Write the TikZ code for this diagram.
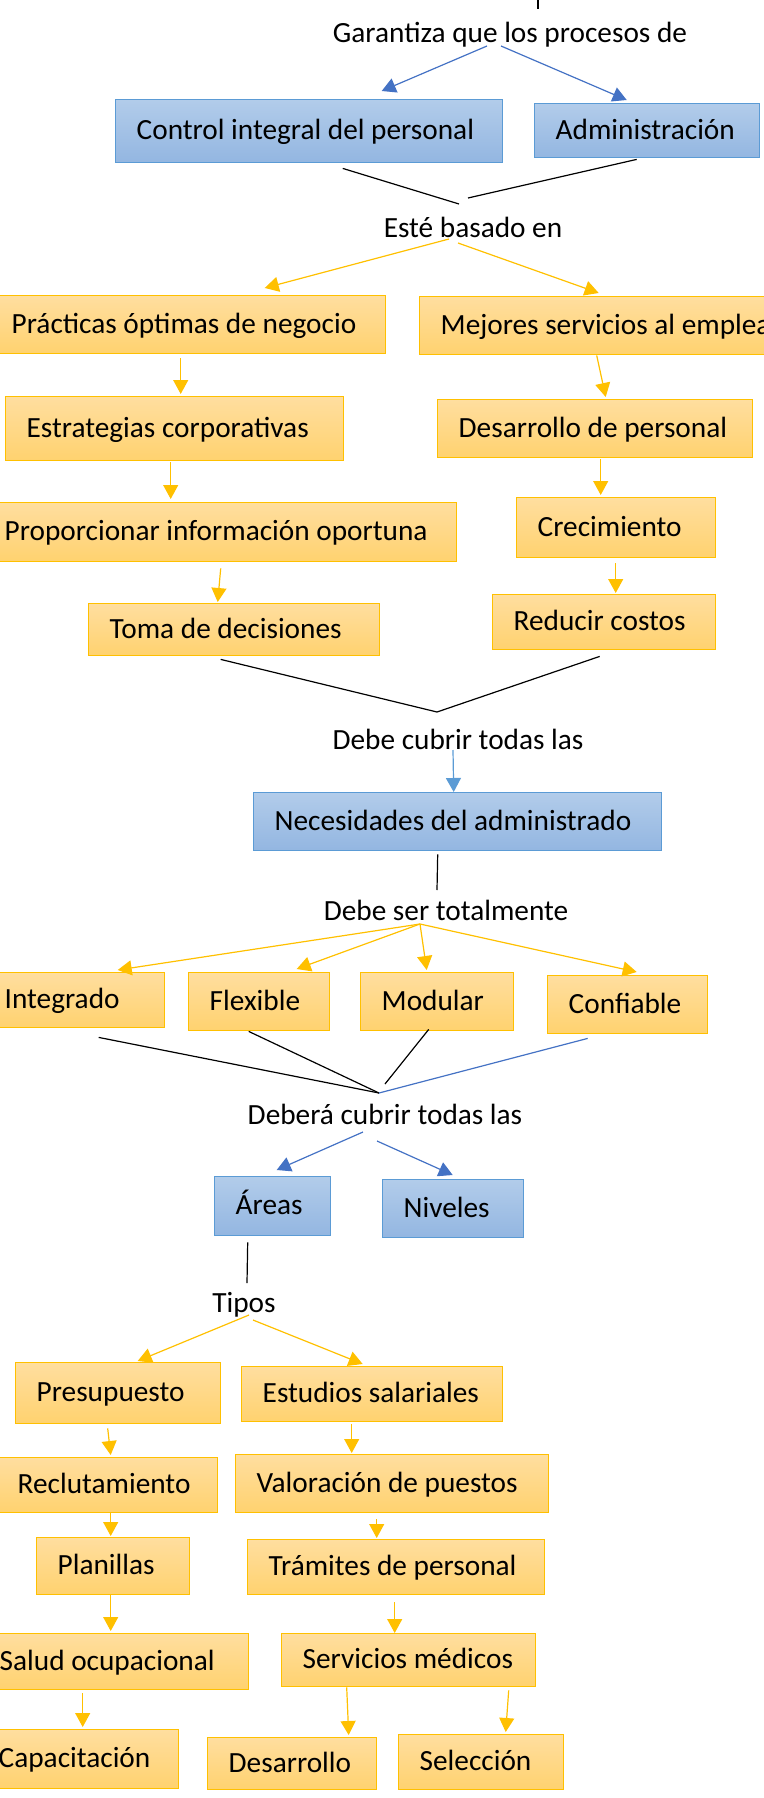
\documentclass[tikz,border=0pt]{standalone}
\usepackage{fontspec}
\setmainfont{Carlito}
\usetikzlibrary{arrows.meta}

\definecolor{yedge}{HTML}{FFC000}
\definecolor{ytop}{HTML}{FFDE9F}
\definecolor{ybot}{HTML}{FFD26F}
\definecolor{bedge}{HTML}{5B9BD5}
\definecolor{btop}{HTML}{B2CCEA}
\definecolor{bbot}{HTML}{93B6E1}
\definecolor{dblue}{HTML}{4472C4}
\definecolor{lblue}{HTML}{5B9BD5}

\begin{document}
\begin{tikzpicture}[x=1pt,y=-1pt,>={Triangle[length=14pt,width=15pt]},
                    font=\fontsize{29.3}{35}\selectfont,line width=1.2pt]
  \tikzstyle{box}=[rectangle,anchor=north west,inner xsep=21pt,inner ysep=0pt,align=flush left,
                   text height=19.5pt,text depth=2.5pt,line width=1.4pt]
  \tikzstyle{ybox}=[box,draw=yedge,top color=ytop,bottom color=ybot]
  \tikzstyle{bbox}=[box,draw=bedge,top color=btop,bottom color=bbot]
  \tikzstyle{txt}=[anchor=base,inner sep=0pt]
  \tikzstyle{yarrow}=[->,draw=yedge]
  \tikzstyle{barrow}=[->,draw=dblue]
  \tikzstyle{link}=[draw=black]

  \useasboundingbox (0,0) rectangle (763,1798);

  % texts between the boxes
  \node[txt] (garant) at (510,43)  {Garantiza que los procesos de};
  \node[txt] (basado) at (473,237) {Esté basado en};
  \node[txt] (cubrir) at (458,749) {Debe cubrir todas las};
  \node[txt] (totalm) at (446,920) {Debe ser totalmente};
  \node[txt] (debera) at (385,1124) {Deberá cubrir todas las};
  \node[txt] (tipos)  at (244,1312) {Tipos};

  % blue boxes
  \node[bbox,text width=345pt,minimum height=63pt] (ctrl)    at (115,99)   {Control integral del personal};
  \node[bbox,text width=183pt,minimum height=54pt] (admin)   at (534,103)  {Administración};
  \node[bbox,text width=366pt,minimum height=58pt] (necesid) at (253,792)  {Necesidades del administrado};
  \node[bbox,text width=74pt, minimum height=59pt] (areas)   at (214,1176) {Áreas};
  \node[bbox,text width=99pt, minimum height=58pt] (niveles) at (382,1179) {Niveles};

  % yellow boxes, left column
  \node[ybox,text width=353pt,minimum height=58pt] (practicas) at (-10,295) {Prácticas óptimas de negocio};
  \node[ybox,text width=296pt,minimum height=64pt] (estrateg)  at (5,396)   {Estrategias corporativas};
  \node[ybox,text width=431pt,minimum height=59pt] (proporc)   at (-17,502) {Proporcionar información oportuna};
  \node[ybox,text width=249pt,minimum height=52pt] (toma)      at (88,603)  {Toma de decisiones};
  % yellow boxes, right column
  \node[ybox,text width=380pt,minimum height=58pt] (mejores)   at (419,296) {Mejores servicios al empleado};
  \node[ybox,text width=273pt,minimum height=58pt] (desper)    at (437,399) {Desarrollo de personal};
  \node[ybox,text width=157pt,minimum height=60pt] (crec)      at (516,497) {Crecimiento};
  \node[ybox,text width=181pt,minimum height=55pt] (reducir)   at (492,594) {Reducir costos};

  % yellow boxes, middle row
  \node[ybox,text width=139pt,minimum height=55pt] (integ)     at (-17,972) {Integrado};
  \node[ybox,text width=99pt, minimum height=58pt] (flex)      at (188,972) {Flexible};
  \node[ybox,text width=111pt,minimum height=58pt] (modular)   at (360,972) {Modular};
  \node[ybox,text width=118pt,minimum height=58pt] (confiable) at (547,975) {Confiable};

  % yellow boxes, bottom
  \node[ybox,text width=163pt,minimum height=61pt] (presup)    at (15,1362)  {Presupuesto};
  \node[ybox,text width=219pt,minimum height=55pt] (estudios)  at (241,1366) {Estudios salariales};
  \node[ybox,text width=179pt,minimum height=55pt] (reclut)    at (-4,1457)  {Reclutamiento};
  \node[ybox,text width=271pt,minimum height=58pt] (valor)     at (235,1454) {Valoración de puestos};
  \node[ybox,text width=111pt,minimum height=57pt] (planillas) at (36,1537)  {Planillas};
  \node[ybox,text width=255pt,minimum height=55pt] (tramites)  at (247,1539) {Trámites de personal};
  \node[ybox,text width=228pt,minimum height=56pt] (salud)     at (-22,1633) {Salud ocupacional};
  \node[ybox,text width=212pt,minimum height=53pt] (servicios) at (281,1633) {Servicios médicos};
  \node[ybox,text width=159pt,minimum height=59pt] (capac)     at (-23,1729) {Capacitación};
  \node[ybox,text width=127pt,minimum height=52pt] (desarr)    at (207,1737) {Desarrollo};
  \node[ybox,text width=123pt,minimum height=55pt] (seleccion) at (398,1734) {Selección};

  % meeting points
  \coordinate (above) at (538,-5);
  \coordinate (meet1) at ([shift={(-21,-37)}]cubrir.base);
  \coordinate (fan)   at ([shift={(-26,4)}]totalm.base);
  \coordinate (meet2) at ([shift={(-6,-31)}]debera.base);

  \path (above) edge[link] ([shift={(28,-34)}]garant.base)
        ([shift={(-23,3)}]garant.base) edge[barrow] ([shift={(72.5,-8)}]ctrl.north)
        ([shift={(-9,3)}]garant.base)  edge[barrow] ([shift={(-20.5,-3)}]admin.north)
        ([shift={(33.5,5)}]ctrl.south) edge[link] ([shift={(-14,-33)}]basado.base)
        ([shift={(-10.5,1)}]admin.south) edge[link] ([shift={(-5,-39)}]basado.base)
        ([shift={(-24,2)}]basado.base) edge[yarrow] ([shift={(76.5,-7)}]practicas.north)
        ([shift={(-15,6)}]basado.base) edge[yarrow] ([shift={(-32,-3)}]mejores.north);

  \path ([shift={(-7.5,4)}]practicas.south) edge[yarrow] ([shift={(6,-2)}]estrateg.north)
        ([shift={(-4,1)}]estrateg.south)    edge[yarrow] ([shift={(-49.5,-3)}]proporc.north)
        ([shift={(0.5,6)}]proporc.south)    edge[yarrow] ([shift={(-16.5,-1)}]toma.north)
        ([shift={(-34,0)}]mejores.south)    edge[yarrow] ([shift={(10.5,-2)}]desper.north)
        ([shift={(5.5,1)}]desper.south)     edge[yarrow] ([shift={(-15.5,-2)}]crec.north)
        ([shift={(-0.5,5)}]crec.south)      edge[yarrow] ([shift={(11.5,-1)}]reducir.north)
        ([shift={(-13.5,3)}]toma.south)     edge[link] (meet1)
        ([shift={(-4.5,6)}]reducir.south)   edge[link] (meet1);

  \path ([shift={(-5,1)}]cubrir.base)      edge[->,draw=lblue] ([shift={(-4,0)}]necesid.north)
        ([shift={(-20,3)}]necesid.south)   edge[link] ([shift={(-9,-30)}]totalm.base)
        (fan) edge[yarrow] ([shift={(43.5,-2)}]integ.north)
        (fan) edge[yarrow] ([shift={(37.5,-3)}]flex.north)
        (fan) edge[yarrow] ([shift={(-10.5,-2)}]modular.north)
        (fan) edge[yarrow] ([shift={(9,-3)}]confiable.north)
        ([shift={(24.5,9)}]integ.south)    edge[link] (meet2)
        ([shift={(-10.5,0)}]flex.south)    edge[link] (meet2)
        ([shift={(-8.5,-2)}]modular.south) edge[link] ([shift={(0,-40)}]debera.base)
        ([shift={(-40,4)}]confiable.south) edge[draw=dblue] (meet2);

  \path ([shift={(-22,8)}]debera.base)     edge[barrow] ([shift={(4,-6)}]areas.north)
        ([shift={(-8,17)}]debera.base)     edge[barrow] ([shift={(-0.5,-4)}]niveles.north)
        ([shift={(-25,6)}]areas.south)     edge[link] ([shift={(3,-29)}]tipos.base)
        ([shift={(5,3)}]tipos.base)        edge[yarrow] ([shift={(19.5,-1)}]presup.north)
        ([shift={(9,8)}]tipos.base)        edge[yarrow] ([shift={(-9.5,-2)}]estudios.north)
        ([shift={(-10.5,4)}]presup.south)  edge[yarrow] ([shift={(3.5,-2)}]reclut.north)
        ([shift={(-20.5,2)}]estudios.south) edge[yarrow] ([shift={(-40.5,-1)}]valor.north)
        ([shift={(3.5,0)}]reclut.south)    edge[yarrow] ([shift={(-2.5,-1)}]planillas.north)
        ([shift={(-15.5,6)}]valor.south)   edge[yarrow] ([shift={(-19.5,-1)}]tramites.north)
        ([shift={(-2.5,0)}]planillas.south) edge[yarrow] ([shift={(-3,-2)}]salud.north)
        ([shift={(-1.5,7)}]tramites.south) edge[yarrow] ([shift={(-14,0)}]servicios.north)
        ([shift={(-31,3)}]salud.south)     edge[yarrow] ([shift={(4.5,-2)}]capac.north)
        ([shift={(-62,0)}]servicios.south) edge[yarrow] ([shift={(56.5,-2)}]desarr.north)
        ([shift={(100,3)}]servicios.south) edge[yarrow] ([shift={(24.5,-2)}]seleccion.north);
\end{tikzpicture}
\end{document}
